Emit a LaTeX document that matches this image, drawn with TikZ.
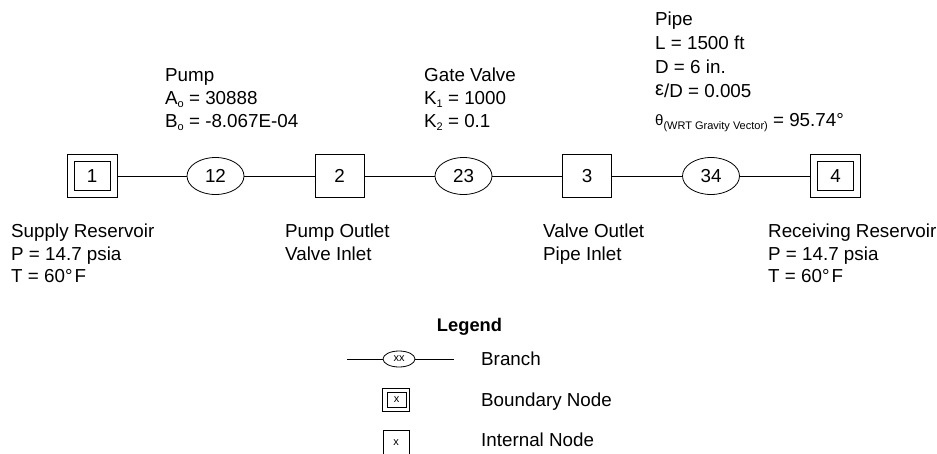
\documentclass[tikz,border=0pt]{standalone}
\usepackage{fontspec}
\setmainfont{Liberation Sans}
\usetikzlibrary{shapes.geometric}
\newcommand{\sbo}{\raisebox{-3pt}{\fontsize{11}{11}\selectfont o}}
\newcommand{\sbn}[1]{\raisebox{-3pt}{\fontsize{11}{11}\selectfont #1}}
\begin{document}
\begin{tikzpicture}[x=1pt,y=-1pt,
  every node/.style={font=\fontsize{18.8}{22}\selectfont, inner sep=0pt},
  lbl/.style={anchor=base west},
  inode/.style={draw, line width=0.8pt, minimum width=49pt, minimum height=43pt},
  binner/.style={draw, line width=0.8pt, minimum width=36pt, minimum height=29pt},
  bouter/.style={draw, line width=0.8pt, minimum width=50pt, minimum height=43pt},
  branch/.style={draw, ellipse, line width=0.8pt, minimum width=57pt, minimum height=37pt},
  conn/.style={line width=0.8pt},
  small/.style={font=\fontsize{11}{11}\selectfont}]
\useasboundingbox (0,0) rectangle (937,453);
% main chain
\node[bouter] (n1o) at (92,176) {};
\node[binner] (n1) at (92,176) {1};
\node[branch] (b12) at (215.5,176) {12};
\node[inode] (n2) at (339.5,176) {2};
\node[branch] (b23) at (463.5,176) {23};
\node[inode] (n3) at (587,176) {3};
\node[branch] (b34) at (711,176) {34};
\node[bouter] (n4o) at (835.5,176) {};
\node[binner] (n4) at (835.5,176) {4};
\draw[conn] (n1o.east) -- (b12.west);
\draw[conn] (b12.east) -- (n2.west);
\draw[conn] (n2.east) -- (b23.west);
\draw[conn] (b23.east) -- (n3.west);
\draw[conn] (n3.east) -- (b34.west);
\draw[conn] (b34.east) -- (n4o.west);
% pump
\node[lbl] (p1) at (165,81) {Pump};
\node[lbl] (p2) at (165,104.3) {A\sbo{} = 30888};
\node[lbl] (p3) at (165,127.7) {B\sbo{} = -8.067E-04};
% gate valve
\node[lbl] (g1) at (424,81) {Gate Valve};
\node[lbl] (g2) at (424,104.3) {K\sbn{1} = 1000};
\node[lbl] (g3) at (424,127.7) {K\sbn{2} = 0.1};
% pipe
\node[lbl] (q1) at (655,25) {Pipe};
\node[lbl] (q2) at (655,49.3) {L = 1500 ft};
\node[lbl] (q3) at (655,73.3) {D = 6 in.};
\node[lbl] (q4) at (655,97.3) {\raisebox{1.5pt}{\fontsize{20}{20}\selectfont ε}/D = 0.005};
\node[lbl] (q5) at (655,126.7) {\raisebox{1pt}{\fontsize{15}{15}\selectfont θ}\raisebox{-2.5pt}{\fontsize{11}{11}\selectfont (WRT Gravity Vector)} = 95.74°};
% lower labels
\node[lbl] (s1) at (11,237.3) {Supply Reservoir};
\node[lbl] (s2) at (11,260) {P = 14.7 psia};
\node[lbl] (s3) at (11,282.7) {T = 60°\hspace{2pt}F};
\node[lbl] (o1) at (285,237.3) {Pump Outlet};
\node[lbl] (o2) at (285,260) {Valve Inlet};
\node[lbl] (v1) at (543,237.3) {Valve Outlet};
\node[lbl] (v2) at (543,260) {Pipe Inlet};
\node[lbl] (r1) at (768,237.3) {Receiving Reservoir};
\node[lbl] (r2) at (768,260) {P = 14.7 psia};
\node[lbl] (r3) at (768,282.7) {T = 60°\hspace{2pt}F};
% legend
\node[anchor=base, font=\fontsize{18.3}{22}\selectfont\bfseries] (leg) at (469.5,331.7) {Legend};
\coordinate (la) at (347,359);
\coordinate (lb) at (454,359);
\node[draw, ellipse, line width=0.8pt, minimum width=32pt, minimum height=16pt, small] (lx) at (399,359) {xx};
\draw[conn] (la) -- (lx.west);
\draw[conn] (lx.east) -- (lb);
\node[lbl] (lt1) at (481,365) {Branch};
\node[draw, line width=0.8pt, minimum width=27pt, minimum height=23pt] (lbo) at (396,399.5) {};
\node[draw, line width=0.8pt, minimum width=19pt, minimum height=15pt, small] (lbi) at (396.5,399.5) {x};
\node[lbl] (lt2) at (481,406.7) {Boundary Node};
\node[draw, line width=0.8pt, minimum width=26pt, minimum height=26pt, small] (lin) at (396,443) {x};
\node[lbl] (lt3) at (481,446.7) {Internal Node};
\end{tikzpicture}
\end{document}
